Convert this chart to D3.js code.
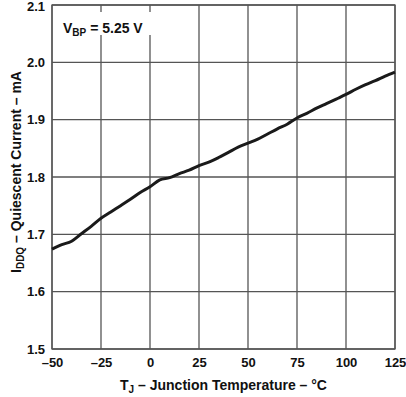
<!DOCTYPE html>
<html>
<head>
<meta charset="utf-8">
<script src="https://cdn.jsdelivr.net/npm/d3@7"></script>
<style>
  body { margin: 0; background: #fff; }
  text { font-family: "Liberation Sans", Arial, sans-serif; font-weight: bold; fill: #111; }
</style>
</head>
<body>
<div id="chart"></div>
<script>
// junction temperature (°C) and quiescent current (mA)
var temps = [-50, -45, -40, -35, -30, -25, -20, -15, -10, -5, 0, 5, 10, 15, 20, 25, 30, 35, 40, 45,
             50, 55, 60, 65, 70, 75, 80, 85, 90, 95, 100, 105, 110, 115, 120, 125];
var current = [1.674, 1.682, 1.688, 1.701, 1.714, 1.728, 1.739, 1.750, 1.761, 1.773, 1.783, 1.795,
               1.799, 1.806, 1.812, 1.820, 1.826, 1.834, 1.843, 1.852, 1.859, 1.866, 1.875, 1.884,
               1.892, 1.903, 1.911, 1.920, 1.928, 1.936, 1.944, 1.953, 1.961, 1.968, 1.976, 1.983];
var xTicks = [-50, -25, 0, 25, 50, 75, 100, 125];
var yTicks = [1.5, 1.6, 1.7, 1.8, 1.9, 2.0, 2.1];

var margin = {top: 5, right: 11, bottom: 48, left: 52},
    width = 406 - margin.left - margin.right,
    height = 397 - margin.top - margin.bottom;

var svg = d3.select("#chart")
    .append("svg")
    .attr("width", 406)
    .attr("height", 397)
    .append("g")
    .attr("transform", "translate(" + margin.left + "," + margin.top + ")");

var x = d3.scaleLinear().domain([-50, 125]).range([0, width]);
var y = d3.scaleLinear().domain([1.5, 2.1]).range([height, 0]);

// grid
svg.append("g")
    .selectAll("line")
    .data(xTicks)
    .enter().append("line")
    .attr("x1", function(d) { return x(d); })
    .attr("x2", function(d) { return x(d); })
    .attr("y1", 0)
    .attr("y2", height)
    .attr("stroke", "#555")
    .attr("stroke-width", 1.3);

svg.append("g")
    .selectAll("line")
    .data(yTicks)
    .enter().append("line")
    .attr("x1", 0)
    .attr("x2", width)
    .attr("y1", function(d) { return y(d); })
    .attr("y2", function(d) { return y(d); })
    .attr("stroke", "#555")
    .attr("stroke-width", 1.3);

svg.append("rect")
    .attr("width", width)
    .attr("height", height)
    .attr("fill", "none")
    .attr("stroke", "#555")
    .attr("stroke-width", 1.3);

// tick labels
var xAxis = svg.append("g")
    .attr("transform", "translate(0," + height + ")")
    .call(d3.axisBottom(x).tickValues(xTicks).tickSize(0).tickPadding(9)
        .tickFormat(function(d) { return d < 0 ? "\u2013" + Math.abs(d) : d; }));
xAxis.select(".domain").remove();
xAxis.selectAll("text").style("font-size", "13px");

var yAxis = svg.append("g")
    .call(d3.axisLeft(y).tickValues(yTicks).tickSize(0).tickPadding(7).tickFormat(d3.format(".1f")));
yAxis.select(".domain").remove();
yAxis.selectAll("text").style("font-size", "13px");
// keep the top label inside the page
yAxis.selectAll("text").filter(function(d) { return d === 2.1; }).attr("dy", "0.42em");

// annotation box
var note = svg.append("g").attr("transform", "translate(11,28)");
note.append("rect")
    .attr("x", -6).attr("y", -21)
    .attr("width", 95).attr("height", 23)
    .attr("fill", "#fff");
var noteText = note.append("text").style("font-size", "14px");
noteText.append("tspan").text("V");
noteText.append("tspan").attr("dy", 3).style("font-size", "10px").text("BP");
noteText.append("tspan").attr("dy", -3).text(" = 5.25 V");

// curve
var line = d3.line()
    .x(function(d, i) { return x(temps[i]); })
    .y(function(d) { return y(d); })
    .curve(d3.curveMonotoneX);

svg.append("path")
    .datum(current)
    .attr("d", line)
    .attr("fill", "none")
    .attr("stroke", "#1a1a1a")
    .attr("stroke-width", 3);

// axis titles
var xt = svg.append("text")
    .attr("x", width / 2)
    .attr("y", height + 41)
    .attr("text-anchor", "middle")
    .style("font-size", "14px");
xt.append("tspan").text("T");
xt.append("tspan").attr("dy", 3).style("font-size", "10px").text("J");
xt.append("tspan").attr("dy", -3).text(" \u2013 Junction Temperature \u2013 \u00b0C");

var yt = svg.append("text")
    .attr("transform", "translate(-31," + (height / 2 - 5) + ") rotate(-90)")
    .attr("text-anchor", "middle")
    .style("font-size", "14px");
yt.append("tspan").text("I");
yt.append("tspan").attr("dy", 3).style("font-size", "10px").text("DDQ");
yt.append("tspan").attr("dy", -3).text(" \u2013 Quiescent Current \u2013 mA");
</script>
</body>
</html>
